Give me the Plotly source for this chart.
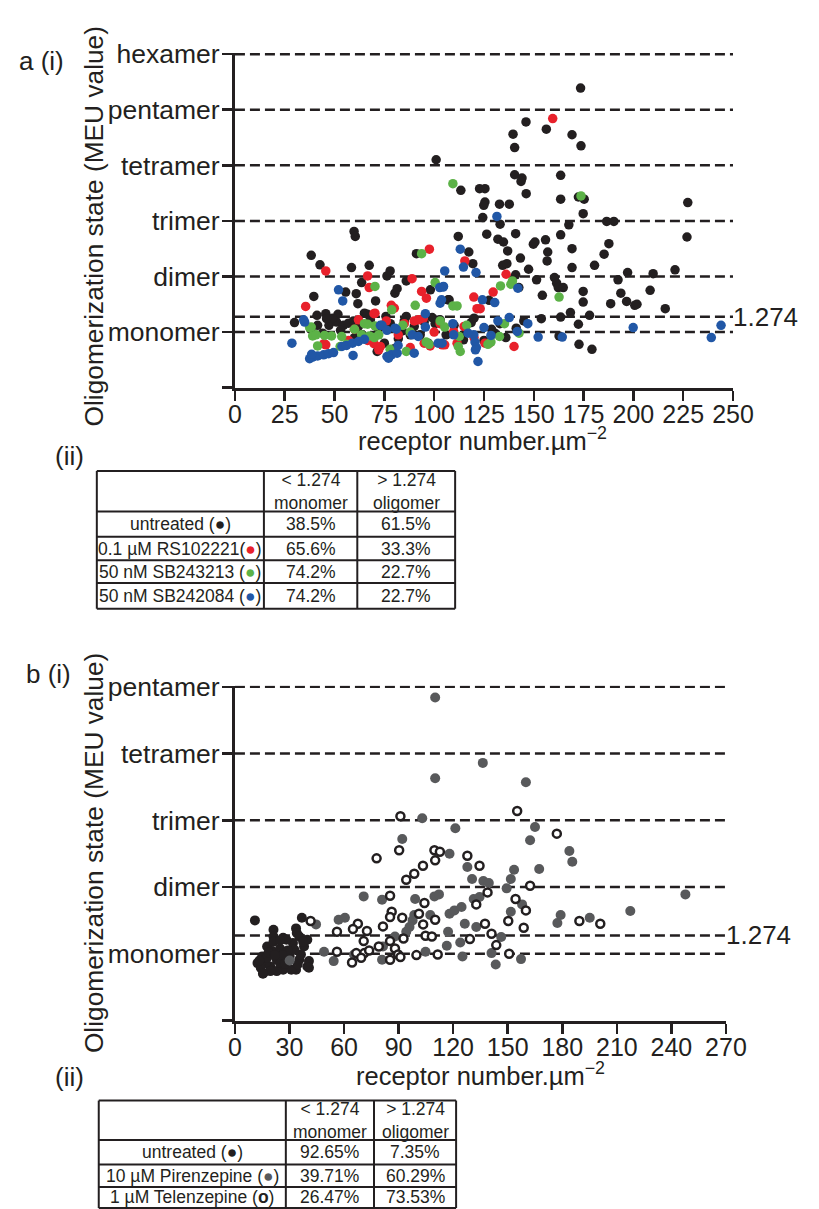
import plotly.graph_objects as go

W, H = 819, 1209
INK = "#231f20"
FONT = "Liberation Sans, Arial, Helvetica, sans-serif"

# ---------------- Panel a data (receptor number, MEU value) ----------------
a_xticks = [0, 25, 50, 75, 100, 125, 150, 175, 200, 225, 250]
a_yticks = [1, 2, 3, 4, 5, 6]
a_yticktext = ["monomer", "dimer", "trimer", "tetramer", "pentamer", "hexamer"]
a_ybase = 0
THRESHOLD = 1.274

a_untreated = [
    (173.5, 5.39), (146.1, 4.78), (156.3, 4.65), (139.6, 4.56), (140.4, 4.32), (169.2, 4.55),
    (173.7, 4.35), (140.4, 3.83), (144.1, 3.77), (143.6, 3.71), (163.5, 3.82), (146.2, 3.49),
    (113.4, 3.55), (122.8, 3.58), (125.5, 3.58), (125.5, 3.34), (124.9, 3.28), (132.8, 3.30),
    (137.7, 3.30), (163.5, 3.39), (172.4, 3.43), (175.3, 3.39), (174.8, 3.13), (124.4, 3.06),
    (133.1, 2.94), (126.4, 2.76), (140.9, 2.77), (132.0, 2.67), (134.8, 2.62), (136.9, 2.46),
    (143.3, 2.33), (134.4, 2.20), (136.5, 2.23), (140.9, 2.03), (147.4, 2.13), (151.4, 1.94),
    (149.8, 2.58), (150.6, 2.62), (155.9, 2.66), (157.0, 2.44), (156.7, 2.28), (163.5, 2.75),
    (167.6, 2.93), (169.2, 2.50), (169.2, 2.16), (160.4, 1.98), (161.5, 1.88), (162.3, 1.80),
    (164.8, 1.80), (154.3, 1.66), (142.5, 1.80), (153.8, 1.24), (163.5, 1.27), (168.4, 1.35),
    (172.4, 1.14), (178.0, 1.30), (162.7, 0.93), (172.7, 0.78), (179.2, 0.69), (141.2, 1.07),
    (127.6, 1.57), (129.1, 0.96), (130.5, 0.98), (128.8, 1.05), (114.7, 0.86), (112.1, 2.72),
    (117.4, 2.44), (119.4, 2.23), (107.0, 1.58), (118.6, 1.17), (227.3, 3.33), (226.9, 2.71),
    (220.9, 2.12), (216.0, 1.42), (209.9, 2.05), (208.4, 1.75), (200.7, 1.48), (201.8, 1.50),
    (196.6, 1.55), (193.7, 1.70), (192.3, 1.94), (197.1, 2.07), (188.6, 1.51), (180.5, 2.20),
    (185.3, 2.40), (187.7, 2.59), (186.6, 2.99), (190.2, 2.99), (174.8, 1.54), (174.8, 1.73),
    (101.0, 4.10),
    (59.8, 2.81), (60.4, 2.72), (38.3, 2.38), (42.7, 2.21), (58.5, 2.16), (67.4, 2.20),
    (76.3, 2.01), (77.9, 2.10), (63.6, 1.89), (86.0, 1.92), (80.3, 1.70), (81.4, 1.78),
    (55.6, 1.72), (60.9, 1.69), (61.7, 1.51), (70.6, 1.56), (39.6, 1.64), (91.1, 2.41),
    (98.1, 1.76), (107.5, 1.58), (65.0, 1.34), (66.5, 1.32), (86.0, 1.28), (75.8, 1.28),
    (29.9, 1.17), (41.2, 1.30), (45.6, 1.33), (51.7, 1.32), (41.5, 1.12), (47.2, 1.12),
    (51.0, 1.18), (54.5, 1.12), (57.0, 1.16), (59.5, 1.20), (71.4, 0.65), (75.0, 0.80),
    (100.5, 1.15), (88.0, 0.95), (93.0, 0.95),
    (38.0, 1.05), (44.0, 0.98), (49.0, 1.25), (53.0, 1.03), (62.0, 1.10), (64.0, 0.95),
    (68.0, 1.22), (72.0, 1.05), (78.0, 1.15), (82.0, 0.88), (85.0, 1.20), (90.0, 1.10),
    (95.0, 1.18), (97.0, 0.80), (103.0, 1.22), (106.0, 0.95), (110.0, 1.12), (116.0, 1.00),
    (120.0, 1.25), (125.0, 0.85), (133.0, 1.15), (136.0, 0.90), (145.0, 1.20), (80.0, 0.70),
    (60.0, 0.90), (46.0, 1.24), (99.0, 1.26), (84.0, 1.02),
]

a_rs102221 = [
    (159.5, 4.84), (136.1, 2.04), (129.6, 1.72), (119.9, 1.63), (121.5, 1.42), (123.1, 1.42),
    (140.1, 0.74), (127.6, 0.80), (115.4, 2.28), (109.8, 1.01), (104.0, 0.77), (45.6, 2.10),
    (66.6, 2.01), (67.4, 1.80), (88.9, 1.96), (35.5, 1.46), (97.6, 2.49), (93.7, 1.73),
    (96.1, 1.61), (80.0, 1.43), (70.3, 1.34), (92.0, 1.22), (90.0, 1.20), (94.5, 1.24),
    (44.7, 0.79), (66.6, 0.85), (69.8, 0.79), (95.0, 0.80), (98.0, 0.75), (105.3, 0.77),
    (111.5, 0.80), (125.5, 0.80), (73.0, 0.74), (69.8, 1.33), (72.2, 0.68), (45.6, 0.77),
    (78.5, 1.48), (60.0, 1.05), (85.0, 1.15), (100.0, 1.00), (115.0, 1.10), (82.0, 0.95),
    (57.0, 0.85), (76.0, 1.20), (103.0, 1.15), (120.0, 0.90), (88.0, 0.72), (62.0, 1.22),
]

a_sb243213 = [
    (109.4, 3.67), (173.7, 3.45), (93.7, 2.41), (100.5, 1.89), (70.3, 1.82), (90.5, 1.48),
    (78.7, 1.40), (109.4, 1.47), (111.5, 1.47), (133.3, 1.83), (138.5, 1.86), (139.3, 1.92),
    (162.7, 1.63), (116.3, 1.12), (105.3, 1.09), (112.6, 0.92), (113.1, 0.65), (112.1, 0.74),
    (135.3, 1.15), (142.6, 0.98), (132.8, 0.92), (127.0, 0.78), (128.5, 0.82), (39.0, 0.93),
    (45.0, 0.94), (48.5, 0.93), (53.6, 0.92), (37.5, 1.08), (41.5, 0.75), (77.9, 0.69),
    (86.0, 0.65), (84.3, 1.12), (70.3, 1.11), (66.6, 1.14), (63.6, 0.95), (67.5, 0.93),
    (70.0, 0.90), (72.2, 0.95), (96.0, 0.82), (97.5, 0.78), (60.0, 1.05), (88.0, 1.00),
    (56.0, 0.78), (103.0, 1.20), (38.3, 1.09), (40.7, 0.95), (65.0, 1.15), (52.8, 0.74),
]

a_sb242084 = [
    (113.1, 2.49), (131.5, 3.08), (114.7, 2.17), (121.0, 2.07), (105.3, 2.10), (104.5, 1.81),
    (103.7, 1.58), (142.0, 1.79), (124.2, 1.58), (130.4, 1.53), (109.4, 1.15), (147.0, 1.15),
    (141.7, 1.01), (137.7, 1.26), (132.0, 1.20), (152.2, 0.91), (164.3, 0.91), (128.5, 0.94),
    (119.9, 0.95), (120.5, 0.82), (121.2, 0.72), (122.0, 0.47), (120.7, 0.68), (104.0, 0.80),
    (102.0, 0.80), (95.6, 1.33), (102.8, 1.80), (104.7, 1.82), (103.0, 1.52), (52.0, 1.76),
    (54.1, 1.56), (35.0, 1.18), (34.5, 1.22), (28.6, 0.80), (199.9, 1.08), (239.1, 0.90),
    (244.0, 1.12), (37.5, 0.52), (39.0, 0.55), (41.5, 0.57), (44.5, 0.59), (47.0, 0.61),
    (49.5, 0.63), (38.5, 0.60), (53.7, 0.74), (56.0, 0.76), (59.0, 0.80), (62.0, 0.83),
    (65.0, 0.87), (59.3, 0.58), (76.3, 0.56), (78.5, 0.59), (81.4, 0.62), (81.9, 0.76),
    (80.3, 1.07), (81.0, 1.05), (73.0, 1.12), (95.6, 1.09), (90.0, 0.62), (89.0, 0.95),
    (92.0, 0.92), (77.1, 0.53), (109.8, 0.95), (117.0, 0.98), (125.0, 1.08), (73.8, 1.12),
    (76.3, 1.03),
]

# ---------------- Panel b data ----------------
b_xticks = [0, 30, 60, 90, 120, 150, 180, 210, 240, 270]
b_yticks = [1, 2, 3, 4, 5]
b_yticktext = ["monomer", "dimer", "trimer", "tetramer", "pentamer"]
b_ybase = 0

b_untreated = [
    (11.0, 1.50), (36.8, 1.54), (21.2, 1.36), (33.6, 1.38), (34.0, 1.31), (21.2, 1.26),
    (26.5, 1.24), (35.4, 1.26), (39.8, 1.21), (38.0, 1.11), (31.9, 1.16), (17.7, 1.11),
    (15.0, 0.96), (12.4, 0.86), (15.6, 0.71), (19.5, 0.81), (23.0, 0.91), (26.5, 0.76),
    (33.6, 0.76), (39.8, 0.81), (35.4, 0.91), (30.1, 0.96), (20.4, 1.04), (24.8, 1.08),
    (28.3, 1.21), (21.2, 1.18), (16.8, 0.86), (23.0, 0.74), (31.0, 0.76), (36.3, 0.99),
    (17.7, 0.94), (24.8, 0.86), (32.7, 1.06), (40.7, 0.89), (14.2, 0.79), (28.3, 0.94),
    (19.5, 0.74), (15.4, 0.70), (40.7, 0.79), (24.8, 1.20), (37.5, 1.18), (29.0, 1.05),
    (26.0, 0.98), (18.5, 1.02), (22.0, 0.98), (13.5, 0.90), (34.5, 0.84), (27.5, 0.85),
]

b_pirenzepine = [
    (110.1, 4.84), (110.1, 3.63), (136.3, 3.86), (160.0, 3.57), (103.0, 3.03), (121.2, 2.88),
    (92.0, 2.72), (118.0, 2.50), (165.0, 2.90), (162.3, 2.70), (167.3, 2.27), (153.5, 2.26),
    (151.7, 2.12), (127.8, 2.30), (130.4, 2.12), (136.6, 2.09), (139.6, 2.06), (149.4, 1.98),
    (70.8, 1.86), (80.9, 1.81), (99.1, 1.82), (109.7, 1.86), (112.2, 1.89), (131.3, 1.82),
    (134.5, 1.85), (118.0, 1.60), (120.7, 1.65), (124.6, 1.70), (98.6, 1.58), (97.7, 1.50),
    (107.4, 1.58), (151.7, 1.63), (157.9, 1.74), (126.4, 1.45), (132.7, 1.40), (96.0, 1.40),
    (94.2, 1.33), (88.0, 1.26), (117.2, 1.33), (123.9, 1.17), (116.5, 1.12), (146.4, 1.25),
    (104.8, 1.03), (81.4, 1.11), (80.9, 0.91), (125.1, 0.96), (141.1, 1.01), (143.4, 0.84),
    (157.3, 0.92), (49.0, 1.03), (54.3, 0.89), (44.6, 1.44), (57.0, 1.51), (60.5, 1.54),
    (65.5, 0.99), (30.1, 0.90), (177.3, 1.46), (179.1, 1.58), (183.9, 2.54), (185.5, 2.38),
    (247.7, 1.89), (217.4, 1.64), (195.1, 1.54),
]

b_telenzepine = [
    (91.0, 3.06), (155.2, 3.14), (177.0, 2.80), (90.3, 2.55), (109.7, 2.55), (112.7, 2.53),
    (110.1, 2.40), (77.9, 2.43), (127.8, 2.47), (134.5, 2.32), (103.4, 2.32), (98.6, 2.20),
    (94.2, 2.11), (162.3, 2.02), (138.9, 1.92), (85.3, 1.87), (104.2, 1.76), (154.3, 1.82),
    (132.7, 1.74), (86.2, 1.63), (85.3, 1.55), (92.0, 1.54), (101.2, 1.60), (110.1, 1.51),
    (103.5, 1.44), (160.0, 1.65), (137.5, 1.45), (150.3, 1.49), (158.8, 1.39), (189.4, 1.49),
    (81.4, 1.41), (67.6, 1.45), (64.9, 1.37), (72.6, 1.34), (56.1, 1.33), (41.6, 1.49),
    (70.8, 1.19), (104.8, 1.27), (108.3, 1.26), (92.7, 1.23), (129.2, 1.22), (141.1, 1.30),
    (143.7, 1.13), (85.3, 1.19), (88.0, 1.08), (56.1, 1.03), (66.7, 1.01), (71.1, 1.01),
    (73.8, 1.05), (79.1, 1.11), (89.7, 0.99), (91.0, 0.95), (99.8, 0.98), (111.5, 0.99),
    (150.8, 1.00), (85.3, 0.91), (64.4, 0.87), (69.4, 0.94), (200.9, 1.45),
]

# ---------------- Tables ----------------
a_tab_header = ["&lt; 1.274<br>monomer", "&gt; 1.274<br>oligomer"]
a_tab_rows = [
    "untreated (<span style='color:#231f20'>●</span>)",
    "0.1 µM RS102221(<span style='color:#e8212b'>●</span>)",
    "50 nM SB243213 (<span style='color:#5cb247'>●</span>)",
    "50 nM SB242084 (<span style='color:#2157a6'>●</span>)",
]
a_tab_mono = ["38.5%", "65.6%", "74.2%", "74.2%"]
a_tab_olig = ["61.5%", "33.3%", "22.7%", "22.7%"]

b_tab_header = ["&lt; 1.274<br>monomer", "&gt; 1.274<br>oligomer"]
b_tab_rows = [
    "untreated (<span style='color:#231f20'>●</span>)",
    "10 µM Pirenzepine (<span style='color:#58595b'>●</span>)",
    "1 µM Telenzepine (<b>o</b>)",
]
b_tab_mono = ["92.65%", "39.71%", "26.47%"]
b_tab_olig = ["7.35%", "60.29%", "73.53%"]

COL_BLACK = "#231f20"
COL_RED = "#e8212b"
COL_GREEN = "#5cb247"
COL_BLUE = "#2157a6"
COL_GREY = "#58595b"


def pxx(x):
    return x / W


def pxy(y):
    return 1 - y / H


def xs(pts):
    return [p[0] for p in pts]


def ys(pts):
    return [p[1] for p in pts]


fig = go.Figure()

MS = 9.5
for pts, col in [(a_untreated, COL_BLACK), (a_rs102221, COL_RED),
                 (a_sb243213, COL_GREEN), (a_sb242084, COL_BLUE)]:
    fig.add_trace(go.Scatter(x=xs(pts), y=ys(pts), mode="markers", xaxis="x", yaxis="y",
                             marker=dict(size=MS, color=col, line=dict(width=0)),
                             showlegend=False, hoverinfo="skip"))

fig.add_trace(go.Scatter(x=xs(b_untreated), y=ys(b_untreated), mode="markers", xaxis="x2", yaxis="y2",
                         marker=dict(size=10, color=COL_BLACK, line=dict(width=0)),
                         showlegend=False, hoverinfo="skip"))
fig.add_trace(go.Scatter(x=xs(b_pirenzepine), y=ys(b_pirenzepine), mode="markers", xaxis="x2", yaxis="y2",
                         marker=dict(size=10, color=COL_GREY, line=dict(width=0)),
                         showlegend=False, hoverinfo="skip"))
fig.add_trace(go.Scatter(x=xs(b_telenzepine), y=ys(b_telenzepine), mode="markers", xaxis="x2", yaxis="y2",
                         marker=dict(size=8, color="white", line=dict(width=2.5, color=COL_BLACK)),
                         showlegend=False, hoverinfo="skip"))

axis_common = dict(showgrid=False, zeroline=False, showline=True, linewidth=3, linecolor=INK,
                   ticks="outside", ticklen=10, tickwidth=2.5, tickcolor=INK, fixedrange=True)
xfont = dict(family=FONT, size=25, color=INK)
yfont = dict(family=FONT, size=26.5, color=INK)


def minor0(v):
    return dict(tickmode="array", tickvals=[v], ticks="outside", ticklen=10, tickwidth=2.5,
                tickcolor=INK, showgrid=False)


fig.update_layout(
    width=W, height=H, margin=dict(l=0, r=0, t=0, b=0, pad=0), autosize=False,
    paper_bgcolor="white", plot_bgcolor="white", showlegend=False,
    font=dict(family=FONT, color=INK),
    xaxis=dict(domain=[pxx(236), pxx(751.7)], range=[0, 250], anchor="y",
               tickvals=a_xticks, ticktext=[str(v) for v in a_xticks], tickfont=xfont,
               ticklabelstandoff=-8, **axis_common),
    yaxis=dict(domain=[pxy(378), pxy(39.5)], range=[a_ybase, 6.02], anchor="x",
               tickvals=a_yticks, ticktext=a_yticktext, tickfont=yfont,
               ticklabelstandoff=-3, minor=minor0(a_ybase), **axis_common),
    xaxis2=dict(domain=[pxx(236), pxx(744.4)], range=[0, 270], anchor="y2",
                tickvals=b_xticks, ticktext=[str(v) for v in b_xticks], tickfont=xfont,
                ticklabelstandoff=-8, **axis_common),
    yaxis2=dict(domain=[pxy(1018.3), pxy(679.7)], range=[b_ybase, 5.015], anchor="x2",
                tickvals=b_yticks, ticktext=b_yticktext, tickfont=yfont,
                ticklabelstandoff=-3, minor=minor0(b_ybase), **axis_common),
)

shapes = []
dash = dict(color=INK, width=2.5, dash="10px,5px")
for lv in a_yticks + [THRESHOLD]:
    shapes.append(dict(type="line", xref="x", yref="y", x0=a_xticks[0], x1=a_xticks[-1],
                       y0=lv, y1=lv, line=dash, layer="below"))
for lv in b_yticks + [THRESHOLD]:
    shapes.append(dict(type="line", xref="x2", yref="y2", x0=b_xticks[0], x1=b_xticks[-1],
                       y0=lv, y1=lv, line=dash, layer="below"))

annotations = []


def ann(text, x, y, size=25, xanchor="center", yanchor="middle", angle=0):
    annotations.append(dict(text=text, x=pxx(x), y=pxy(y), xref="paper", yref="paper",
                            xanchor=xanchor, yanchor=yanchor, showarrow=False, textangle=angle,
                            font=dict(family=FONT, size=size, color=INK)))


# threshold labels
annotations.append(dict(text=str(THRESHOLD), x=a_xticks[-1], y=THRESHOLD, xref="x", yref="y",
                        xanchor="left", yanchor="middle", showarrow=False, xshift=-2,
                        font=dict(family=FONT, size=26, color=INK)))
annotations.append(dict(text=str(THRESHOLD), x=b_xticks[-1], y=THRESHOLD, xref="x2", yref="y2",
                        xanchor="left", yanchor="middle", showarrow=False, xshift=-2,
                        font=dict(family=FONT, size=26, color=INK)))

# panel labels and axis titles
ann("a (i)", 10, 48, size=26, xanchor="left")
ann("b (i)", 18, 668, size=26, xanchor="left")
ann("(ii)", 48, 447, size=26, xanchor="left")
ann("(ii)", 48, 1075, size=26, xanchor="left")
ann("Oligomerization state (MEU value)", 90, 215, size=26.3, angle=-90)
ann("Oligomerization state (MEU value)", 90, 849, size=26.3, angle=-90)
ann("receptor number.µm<sup>−2</sup>", 492, 430, size=25.5)
ann("receptor number.µm<sup>−2</sup>", 490, 1072, size=25.5)


def table(cols, rows, header, labels, mono, olig, fs):
    for cx in cols:
        shapes.append(dict(type="line", xref="paper", yref="paper", x0=pxx(cx), x1=pxx(cx),
                           y0=pxy(rows[0]), y1=pxy(rows[-1]), line=dict(color=INK, width=2)))
    for ry in rows:
        shapes.append(dict(type="line", xref="paper", yref="paper", x0=pxx(cols[0]), x1=pxx(cols[-1]),
                           y0=pxy(ry), y1=pxy(ry), line=dict(color=INK, width=2)))
    hy = (rows[0] + rows[1]) / 2
    ann(header[0], (cols[1] + cols[2]) / 2, hy, size=fs)
    ann(header[1], (cols[2] + cols[3]) / 2, hy, size=fs)
    for i in range(len(labels)):
        cy = (rows[i + 1] + rows[i + 2]) / 2
        ann(labels[i], (cols[0] + cols[1]) / 2, cy, size=fs)
        ann(mono[i], (cols[1] + cols[2]) / 2, cy, size=fs)
        ann(olig[i], (cols[2] + cols[3]) / 2, cy, size=fs)


table([93, 266, 362.7, 464], [462.3, 503.3, 529, 552.7, 575.7, 601.7],
      a_tab_header, a_tab_rows, a_tab_mono, a_tab_olig, 17.5)
table([95, 288.7, 380, 465], [1099.3, 1139.3, 1164, 1186.7, 1208.0],
      b_tab_header, b_tab_rows, b_tab_mono, b_tab_olig, 17.5)

fig.update_layout(shapes=shapes, annotations=annotations)

post = ("document.documentElement.style.margin='0';document.body.style.margin='0';"
        "document.body.style.overflow='hidden';"
        "var d=document.getElementById('{plot_id}');"
        "d.style.position='absolute';d.style.left='0px';d.style.top='0px';")

fig.write_html("out.html", config={"displayModeBar": False, "staticPlot": True, "responsive": False},
               post_script=post)
